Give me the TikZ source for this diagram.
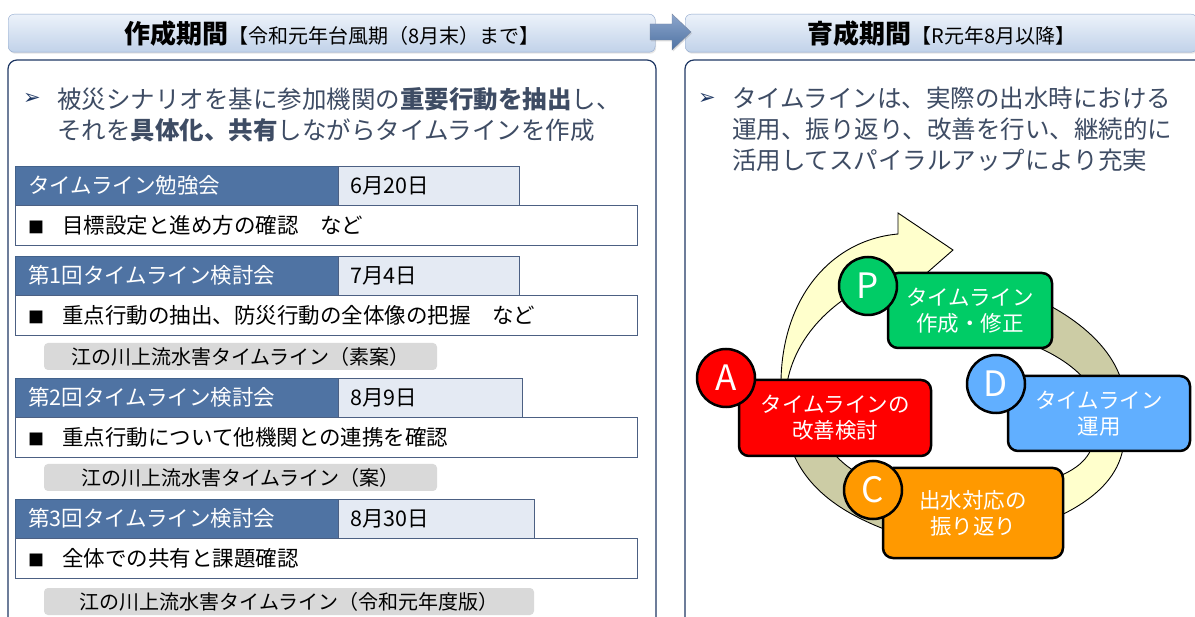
\documentclass[tikz,border=0pt]{standalone}
\usepackage{fontspec}
\setmainfont{Noto Sans CJK JP}
\newfontfamily\symfont{DejaVu Sans}
\usetikzlibrary{shadows}
\definecolor{ink}{RGB}{62,76,100}
\definecolor{frame}{RGB}{31,56,100}
\definecolor{barline}{RGB}{141,166,204}
\definecolor{bartop}{RGB}{236,242,250}
\definecolor{barbottom}{RGB}{193,210,233}
\definecolor{headfill}{RGB}{79,115,163}
\definecolor{datefill}{RGB}{228,234,243}
\definecolor{tagfill}{RGB}{217,217,217}
\definecolor{ringlight}{RGB}{255,255,204}
\definecolor{ringdark}{RGB}{204,204,165}
\definecolor{plangreen}{RGB}{0,204,102}
\definecolor{doblue}{RGB}{97,175,255}
\definecolor{checkorange}{RGB}{255,153,0}
\definecolor{actred}{RGB}{255,0,0}
\newcommand\fsize[2]{\fontsize{#1}{#2}\selectfont}
\newcommand\sqmark{{\fsize{16}{16}■}\hspace{18pt}}

\begin{document}
\begin{tikzpicture}[x=1pt, y=-1pt,
    every node/.style={inner sep=0pt},
    bar/.style={draw=barline, top color=bartop, bottom color=barbottom, rounded corners=6, minimum height=38, anchor=north west, font=\fsize{26}{26}, drop shadow={opacity=0.2, shadow xshift=1pt, shadow yshift=-1.5pt}},
    panel/.style={draw=frame, line width=1.2pt, rounded corners=9},
    lead/.style={anchor=west, align=left, text=ink, font=\fsize{24.5}{31}},
    bullet/.style={text=frame, font=\symfont\fsize{21}{21}},
    head/.style={fill=headfill, draw=headfill!85!black, text=white, anchor=north west, minimum height=39, text width=297, inner xsep=13, align=left, font=\fsize{21.5}{22}},
    date/.style={fill=datefill, draw=frame!80, anchor=north west, minimum height=39, inner xsep=12, align=left, font=\fsize{21.5}{22}},
    body/.style={fill=white, draw=frame!80, anchor=north west, minimum height=40, text width=596, inner xsep=13, align=left, font=\fsize{21.5}{22}},
    tag/.style={fill=tagfill, rounded corners=4, minimum height=27, font=\fsize{20}{20}},
    ring/.style={draw=black, line width=0.9pt},
    cyclebox/.style={draw=black, line width=2.5pt, rounded corners=10, text=white, align=center, font=\fsize{21.5}{26}},
    badge/.style={circle, draw=black, line width=2.5pt, minimum size=58, text=white, font=\fsize{35}{35}},
  ]

  \useasboundingbox (0,0) rectangle (1195,617);
  \clip (0,0) rectangle (1195,617);
  \fill[white] (0,0) rectangle (1195,617);

  \node[bar, minimum width=647] (makehead) at (8,14) {\textbf{作成期間}\fsize{20}{20}【令和元年台風期（8月末）まで】};
  \node[bar, minimum width=512] (growhead) at (685,14) {\textbf{育成期間}\fsize{20}{20}【R元年8月以降】};
  \draw[draw=frame!60, top color=barline, bottom color=headfill, drop shadow={opacity=0.25, shadow xshift=1pt, shadow yshift=-1.5pt}]
    (650,24) -- (672,24) -- (672,14) -- (691,32) -- (672,50) -- (672,40) -- (650,40) -- cycle;

  \draw[panel] (8,60) rectangle (656,660);
  \draw[panel] (685,60) rectangle (1230,660);

  \node[bullet] (leftmark) at (32,99) {➢};
  \node[lead] (lefttext) at (57,114.5) {被災シナリオを基に参加機関の\textbf{重要行動を抽出}し、\\それを\textbf{具体化、共有}しながらタイムラインを作成};
  \node[bullet] (rightmark) at (707,99) {➢};
  \node[lead] (righttext) at (732,129.5) {タイムラインは、実際の出水時における\\運用、振り返り、改善を行い、継続的に\\活用してスパイラルアップにより充実};

  \node[head] (study) at (15,166) {タイムライン勉強会};
  \node[date, text width=157] (studydate) at (338,166) {6月20日};
  \node[body] (studybody) at (15,205) {\sqmark 目標設定と進め方の確認　など};

  \node[head] (meet1) at (15,256) {第1回タイムライン検討会};
  \node[date, text width=157] (meet1date) at (338,256) {7月4日};
  \node[body] (meet1body) at (15,295) {\sqmark 重点行動の抽出、防災行動の全体像の把握　など};
  \node[tag, minimum width=393] (draft1) at (240.5,356.5) {江の川上流水害タイムライン（素案）};

  \node[head] (meet2) at (15,378) {第2回タイムライン検討会};
  \node[date, text width=160] (meet2date) at (338,378) {8月9日};
  \node[body] (meet2body) at (15,417) {\sqmark 重点行動について他機関との連携を確認};
  \node[tag, minimum width=393] (draft2) at (240.5,477.5) {江の川上流水害タイムライン（案）};

  \node[head] (meet3) at (15,499) {第3回タイムライン検討会};
  \node[date, text width=172] (meet3date) at (338,499) {8月30日};
  \node[body] (meet3body) at (15,538) {\sqmark 全体での共有と課題確認};
  \node[tag, minimum width=490] (final) at (289,601.5) {江の川上流水害タイムライン（令和元年度版）};

  \draw[ring, fill=ringlight] (781,390) .. controls (779,300) and (830,240) .. (898,234) -- (898,213) -- (953,250) -- (905,292) -- (880,280) .. controls (830,300) and (792,340) .. (786,390) -- cycle;
  \draw[ring, fill=ringdark] (1030,296) .. controls (1080,318) and (1118,352) .. (1124,392) -- (1094,392) .. controls (1082,372) and (1060,355) .. (1025,342) -- cycle;
  \draw[ring, fill=ringlight] (1124,440) .. controls (1122,475) and (1095,500) .. (1055,518) -- (1055,478) .. controls (1075,470) and (1090,460) .. (1094,440) -- cycle;
  \draw[ring, fill=ringdark] (790,445) .. controls (805,490) and (845,515) .. (892,532) -- (892,490) .. controls (865,478) and (842,468) .. (828,445) -- cycle;

  \node[cyclebox, fill=plangreen, minimum width=164, minimum height=75] (plan) at (970,310.5) {タイムライン\\作成・修正};
  \node[cyclebox, fill=actred, minimum width=192, minimum height=76] (act) at (835,418) {タイムラインの\\改善検討};
  \node[cyclebox, fill=doblue, minimum width=182, minimum height=75] (do) at (1099,413.5) {タイムライン\\運用};
  \node[cyclebox, fill=checkorange, minimum width=180, minimum height=90] (check) at (973,513) {出水対応の\\振り返り};

  \node[badge, fill=plangreen] (p) at (868,286) {P};
  \node[badge, fill=actred] (a) at (726,378) {A};
  \node[badge, fill=doblue] (d) at (996,384) {D};
  \node[badge, fill=checkorange] (c) at (873,490) {C};

\end{tikzpicture}
\end{document}
